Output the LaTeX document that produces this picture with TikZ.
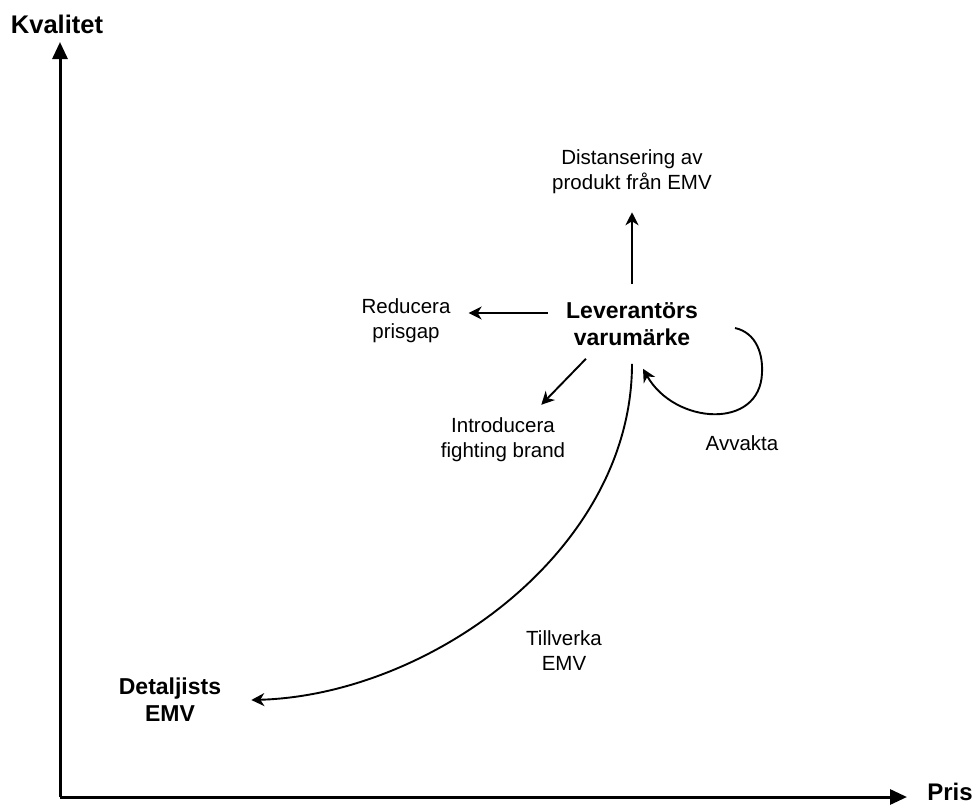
\documentclass[tikz,border=0pt]{standalone}
\usepackage{fontspec}
\setmainfont{Liberation Sans}
\usepackage{tikz}
\usetikzlibrary{arrows.meta}
\tikzset{
  axis/.style={-{Triangle[length=17pt,width=15pt]},line width=3pt},
  flow/.style={-{Stealth[length=13pt,width=13pt,inset=4pt]},line width=1.9pt},
  label/.style={align=center,inner sep=18pt,font=\fontsize{20.5}{25}\selectfont},
  boldlabel/.style={align=center,inner sep=18pt,font=\fontsize{23}{27}\selectfont\bfseries},
  axislabel/.style={inner sep=0pt,font=\fontsize{24}{28}\selectfont\bfseries}
}
\begin{document}
\begin{tikzpicture}[x=1pt,y=-1pt]
    \useasboundingbox (0,0) rectangle (978,804);

    % axes
    \coordinate (origin) at (60,797);
    \coordinate (ytip) at (60,42);
    \coordinate (xtip) at (907,797);
    \draw[axis] (origin) -- (ytip);
    \draw[axis] (origin) -- (xtip);
    \node[axislabel,font=\fontsize{25.5}{30}\selectfont\bfseries] (kval) at (57,24) {Kvalitet};
    \node[axislabel] (pris) at (950,792) {Pris};

    % brands
    \node[boldlabel] (lev) at (632,324) {Leverantörs\\varumärke};
    \node[boldlabel] (det) at (170,700) {Detaljists\\EMV};

    % strategies
    \node[label] (dist) at (632,172) {Distansering av\\produkt från EMV};
    \node[label] (red) at (406,321) {Reducera\\prisgap};
    \node[label] (intro) at (503,440) {Introducera\\fighting brand};
    \node[label] (avv) at (742,443) {Avvakta};
    \node[label] (till) at (564,651) {Tillverka\\EMV};

    \draw[flow] (lev.north) -- (dist.south);
    \draw[flow] ([yshift=11pt]lev.west) -- ([yshift=8pt]red.east);
    \draw[flow,shorten <=-7pt,shorten >=-7pt] (lev.218) -- (intro.43);
    \draw[flow] ([xshift=19pt,yshift=-4pt]lev.east)
      .. controls (757,333) and (763,355) .. (762,373)
      .. controls (760,430) and (675,425) .. ([xshift=11pt,yshift=-5pt]lev.south);
    \draw[flow] (lev.south) .. controls (632,550) and (430,695) .. ([xshift=12pt]det.east);
  \end{tikzpicture}
\end{document}
